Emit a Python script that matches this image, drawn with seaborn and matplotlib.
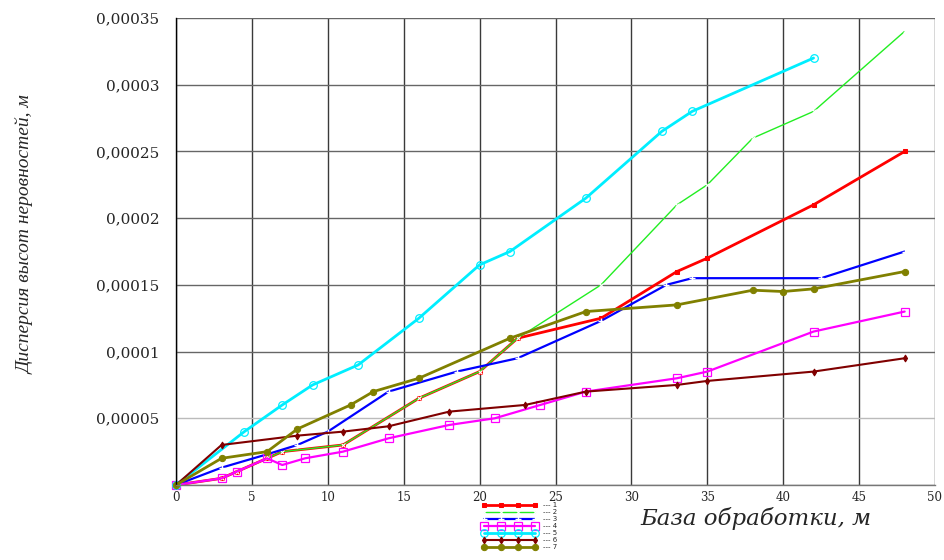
import matplotlib
matplotlib.use("Agg")
import matplotlib.pyplot as plt
import seaborn as sns

# --------------------- Data ---------------------

x1 = [0, 3, 4, 6, 7, 11, 16, 20, 22.5, 28, 33, 35, 42, 48]
y1 = [0, 0.000005, 0.00001, 0.00002, 0.000025, 0.00003, 0.000065, 0.000085,
      0.00011, 0.000125, 0.00016, 0.00017, 0.00021, 0.00025]

x2 = [0, 3, 4, 6, 7, 11, 16, 20, 22.5, 28, 33, 35, 38, 42, 48]
y2 = [0, 0.000005, 0.00001, 0.00002, 0.000025, 0.00003, 0.000065, 0.000085,
      0.00011, 0.00015, 0.00021, 0.000225, 0.00026, 0.00028, 0.00034]

x3 = [0, 3, 6, 8, 10, 14, 18.5, 22.5, 28, 32.3, 34, 42.5, 48]
y3 = [0, 0.000013, 0.000023, 0.00003, 0.00004, 0.00007, 0.000085, 0.000095,
      0.000123, 0.00015, 0.000155, 0.000155, 0.000175]

x4 = [0, 3, 4, 6, 7, 8.5, 11, 14, 18, 21, 24, 27, 33, 35, 42, 48]
y4 = [0, 0.000005, 0.00001, 0.00002, 0.000015, 0.00002, 0.000025, 0.000035,
      0.000045, 0.00005, 0.00006, 0.00007, 0.00008, 0.000085, 0.000115, 0.00013]

x5 = [0, 4.5, 7, 9, 12, 16, 20, 22, 27, 32, 34, 42]
y5 = [0, 0.00004, 0.00006, 0.000075, 0.00009, 0.000125, 0.000165, 0.000175,
      0.000215, 0.000265, 0.00028, 0.00032]

x6 = [0, 3, 8, 11, 14, 18, 23, 27, 33, 35, 42, 48]
y6 = [0, 0.00003, 0.000037, 0.00004, 0.000044, 0.000055, 0.00006, 0.00007,
      0.000075, 0.000078, 0.000085, 0.000095]

x7 = [0, 3, 6, 8, 11.5, 13, 16, 22, 27, 33, 38, 40, 42, 48]
y7 = [0, 0.00002, 0.000025, 0.000042, 0.00006, 0.00007, 0.00008, 0.00011,
      0.00013, 0.000135, 0.000146, 0.000145, 0.000147, 0.00016]

series_labels = ["--- 1", "--- 2", "--- 3", "--- 4", "--- 5", "--- 6", "--- 7"]

x_ticks = [0, 5, 10, 15, 20, 25, 30, 35, 40, 45, 50]
x_tick_labels = ["0", "5", "10", "15", "20", "25", "30", "35", "40", "45", "50"]
y_ticks = [0, 0.00005, 0.0001, 0.00015, 0.0002, 0.00025, 0.0003, 0.00035]
y_tick_labels = ["", "0,00005", "0,0001", "0,00015", "0,0002", "0,00025", "0,0003", "0,00035"]

# --------------------- Styles ---------------------

styles = [
    dict(color="#ff0000", lw=2.0, marker="s", ms=3.5, mfc="#ff0000", mec="#ff0000"),
    dict(color="#22ee22", lw=1.0, marker="x", ms=3.5, mew=0.8),
    dict(color="#0000ff", lw=1.6, marker="+", ms=4.5, mew=1.0),
    dict(color="#ff00ff", lw=1.6, marker="s", ms=5.5, mfc="none", mec="#ff00ff", mew=0.9),
    dict(color="#00eeff", lw=2.0, marker="o", ms=5.5, mfc="none", mec="#00eeff", mew=0.9),
    dict(color="#800000", lw=1.5, marker="d", ms=3.5, mfc="#800000", mec="#800000"),
    dict(color="#808000", lw=2.0, marker="o", ms=4.5, mfc="#808000", mec="#808000"),
]

xs = [x1, x2, x3, x4, x5, x6, x7]
ys = [y1, y2, y3, y4, y5, y6, y7]

sns.set_style("white")

fig = plt.figure(figsize=(9.44, 5.6), dpi=100)
ax = fig.add_axes([176 / 944, 1 - 485 / 560, (935 - 176) / 944, (485 - 18) / 560])

for x, y, lab, st in zip(xs, ys, series_labels, styles):
    sns.lineplot(x=x, y=y, ax=ax, label=lab, estimator=None, clip_on=False, **st)

if ax.get_legend() is not None:
    ax.get_legend().remove()
handles = list(ax.lines[:len(series_labels)])

ax.set_xlim(0, 50)
ax.set_ylim(0, 0.00035)
ax.set_xticks(x_ticks)
ax.set_xticklabels(x_tick_labels, family="DejaVu Serif", fontsize=8.5)
ax.set_yticks(y_ticks)
ax.set_yticklabels(y_tick_labels, family="DejaVu Serif", fontsize=11)
ax.tick_params(axis="y", direction="out", length=9, width=1, color="#555555", pad=3)
ax.tick_params(axis="x", direction="out", length=3, width=1, color="#555555", pad=1)

ax.grid(True, axis="x", color="#3a3a3a", lw=1.0)
ax.grid(True, axis="y", color="#666666", lw=1.0)
ax.get_ygridlines()[1].set_color("#bbbbbb")

for side in ["top", "right"]:
    ax.spines[side].set_visible(False)
ax.spines["left"].set_color("black")
ax.spines["left"].set_linewidth(1.0)
ax.spines["bottom"].set_color("#777777")
ax.spines["bottom"].set_linewidth(1.0)
ax.set_xlabel("")
ax.set_ylabel("")

fig.text(25 / 944, 1 - 235 / 560, "Дисперсия высот неровностей, м",
         rotation=90, ha="center", va="center", family="Liberation Serif",
         style="italic", fontsize=14)
fig.text(756 / 944, 1 - 518 / 560, "База обработки, м", ha="center", va="center",
         family="DejaVu Serif", style="italic", fontsize=16.5)

fig.legend(handles, series_labels, loc="upper left",
           bbox_to_anchor=(482 / 944, 1 - 502 / 560),
           frameon=False, fontsize=5, numpoints=4, handlelength=8, labelspacing=0.15,
           borderpad=0, handletextpad=0.8, borderaxespad=0)

fig.savefig("out.png", dpi=100)
